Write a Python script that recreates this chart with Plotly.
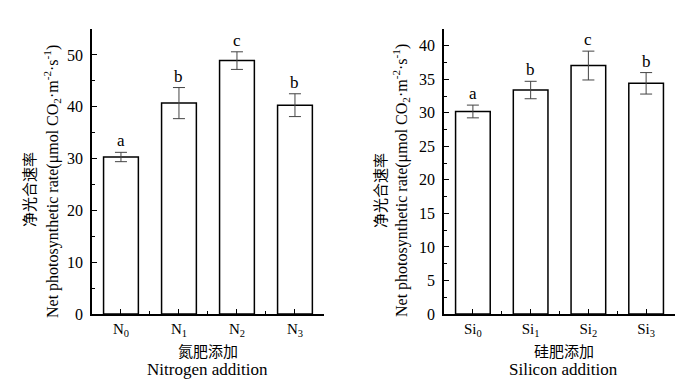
import plotly.graph_objects as go

# ---- data ----
n_categories = ["N<sub>0</sub>", "N<sub>1</sub>", "N<sub>2</sub>", "N<sub>3</sub>"]
n_values = [30.3, 40.7, 48.9, 40.3]
n_errors = [0.9, 3.0, 1.7, 2.2]
n_letters = ["a", "b", "c", "b"]

si_categories = ["Si<sub>0</sub>", "Si<sub>1</sub>", "Si<sub>2</sub>", "Si<sub>3</sub>"]
si_values = [30.2, 33.4, 37.05, 34.4]
si_errors = [0.95, 1.3, 2.15, 1.6]
si_letters = ["a", "b", "c", "b"]

n_yticks = [0, 10, 20, 30, 40, 50]
si_yticks = [0, 5, 10, 15, 20, 25, 30, 35, 40]

SERIF = "Liberation Serif"
CJK = "Noto Sans CJK SC"

fig = go.Figure()

def add_panel(cats, vals, errs, xa, ya):
    fig.add_trace(go.Bar(
        x=cats, y=vals, xaxis=xa, yaxis=ya, width=0.6,
        marker=dict(color="white", line=dict(color="black", width=1.5)),
        error_y=dict(type="data", array=errs, visible=True, color="#444444",
                     thickness=1, width=6),
        showlegend=False,
    ))

add_panel(n_categories, n_values, n_errors, "x", "y")
add_panel(si_categories, si_values, si_errors, "x2", "y2")

ax_common = dict(showline=True, linecolor="black", linewidth=1.5, showgrid=False,
                 zeroline=False, ticks="inside", tickcolor="black", ticklen=5,
                 tickwidth=1, automargin=False)
xfont = dict(family=SERIF, size=15, color="black")
yfont = dict(family=SERIF, size=16, color="black")

xminor = dict(ticks="inside", ticklen=3, tickcolor="black",
              tickmode="array", tickvals=[0.5, 1.5, 2.5, 3.5])

fig.update_layout(
    width=686, height=377,
    margin=dict(l=0, r=0, t=0, b=0),
    paper_bgcolor="white", plot_bgcolor="white",
    bargap=0.4,
    xaxis=dict(domain=[0.1224, 0.4606], anchor="y", type="category",
               range=[-0.5, 3.5], minor=xminor, tickfont=xfont, **ax_common),
    yaxis=dict(domain=[0.1883, 0.9443], anchor="x", range=[0, 55],
               tickvals=n_yticks, tickfont=yfont, ticklabelstandoff=4,
               minor=dict(ticks="inside", ticklen=3, tickcolor="black",
                          tickmode="array", tickvals=[5, 15, 25, 35, 45, 55]),
               **ax_common),
    xaxis2=dict(domain=[0.6356, 0.9723], anchor="y2", type="category",
                range=[-0.5, 3.5], minor=xminor, tickfont=xfont, **ax_common),
    yaxis2=dict(domain=[0.1883, 0.9443], anchor="x2", range=[0, 42.5],
                tickvals=si_yticks, tickfont=yfont, ticklabelstandoff=4,
                minor=dict(ticks="inside", ticklen=3, tickcolor="black",
                           tickmode="array",
                           tickvals=[2.5, 7.5, 12.5, 17.5, 22.5, 27.5, 32.5, 37.5, 42.5]),
                **ax_common),
)

annotations = []
for cats, vals, errs, letters, xr, yr in [
    (n_categories, n_values, n_errors, n_letters, "x", "y"),
    (si_categories, si_values, si_errors, si_letters, "x2", "y2"),
]:
    for c, v, e, l in zip(cats, vals, errs, letters):
        annotations.append(dict(x=c, y=v + e, xref=xr, yref=yr, text=l,
                                showarrow=False, xanchor="center", yanchor="bottom",
                                yshift=0,
                                font=dict(family=SERIF, size=17, color="black")))

ytitle_en = "Net photosynthetic rate(μmol CO<sub>2</sub>·m<sup>-2</sup>·s<sup>-1</sup>)"
for x_cn, x_en in [(0.0292, 0.0641), (0.5408, 0.5729)]:
    annotations.append(dict(x=x_cn, y=0.5172, xref="paper", yref="paper",
                            text="净光合速率", textangle=-90, showarrow=False,
                            xanchor="center", yanchor="middle",
                            font=dict(family=CJK, size=15, color="black")))
    annotations.append(dict(x=x_en, y=0.5411, xref="paper", yref="paper",
                            text=ytitle_en, textangle=-90, showarrow=False,
                            xanchor="center", yanchor="middle",
                            font=dict(family=SERIF, size=16, color="black")))

for xc, cn, en in [(0.2915, "氮肥添加", "Nitrogen addition"),
                   (0.8098, "硅肥添加", "Silicon addition")]:
    annotations.append(dict(x=xc, y=0.0928, xref="paper", yref="paper", text=cn,
                            showarrow=False, xanchor="center", yanchor="middle",
                            font=dict(family=CJK, size=15, color="black")))
    annotations.append(dict(x=xc, y=0.0398, xref="paper", yref="paper", text=en,
                            showarrow=False, xanchor="center", yanchor="middle",
                            font=dict(family=SERIF, size=17, color="black")))

fig.update_layout(annotations=annotations)
fig.write_html("out.html")
